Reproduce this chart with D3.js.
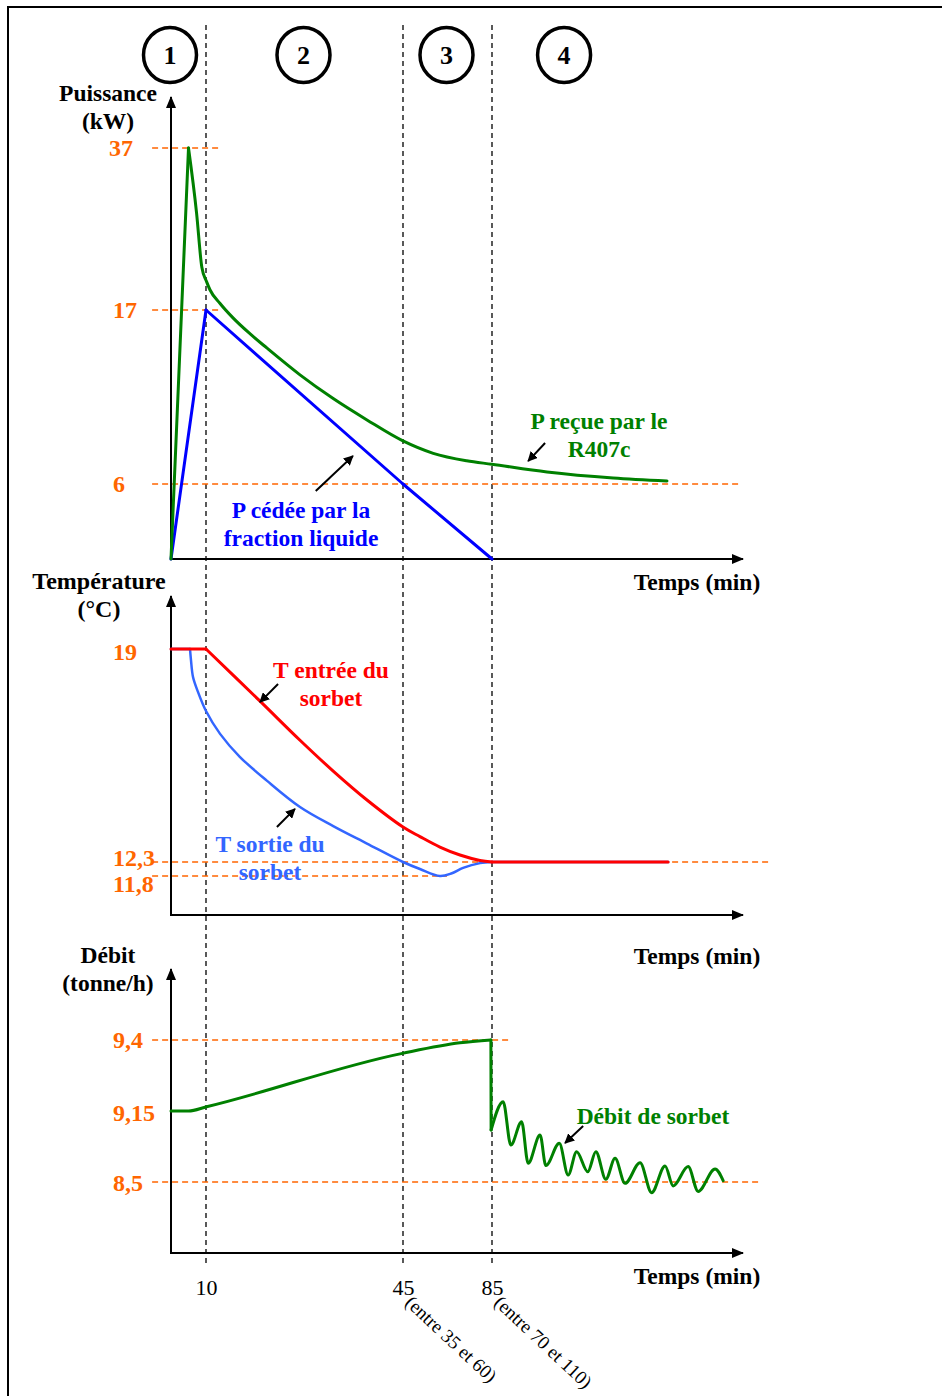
<!DOCTYPE html>
<html lang="fr">
<head>
<meta charset="utf-8">
<title>Phases de refroidissement du sorbet</title>
<script src="https://cdn.jsdelivr.net/npm/d3@7"></script>
<style>
  body { margin: 0; background: #fff; }
  text { font-family: "Liberation Serif", "DejaVu Serif", serif; }
</style>
</head>
<body>
<script>
// --- data (time in min) ---
var phases = ["1", "2", "3", "4"];
var phaseT = [0, 27.5, 65, 104];
var bounds = [10, 45, 85];
var boundNotes = ["", "(entre 35 et 60)", "(entre 70 et 110)"];

// power panel (kW)
var pTicks = [37, 17, 6];
var pRecueT = [0, 5, 7.3, 8.8, 10.1, 10.7, 12.5, 14.8, 17.8, 20.8, 26.7, 32.6, 38.6, 44.9, 58.6, 73.6, 84.9, 99.3, 116.5, 130.5];
var pRecueV = [0, 37, 29, 22.3, 20.5, 19.5, 17.8, 16.5, 15.5, 14.6, 12.9, 11.4, 10.05, 8.74, 7.94, 7.47, 7.25, 6.76, 6.38, 6.19];
var pCedeeT = [0, 10, 45, 85];
var pCedeeV = [0, 17, 6, 0];

// temperature panel (°C)
var tTicks = [19, 12.3, 11.8];
var tEntreeT = [0, 10, 19.6, 26.7, 32.6, 38.6, 45, 52.6, 61.6, 70.6, 79.6, 85, 130.8];
var tEntreeV = [19, 19, 17.36, 16.13, 15.16, 14.25, 13.4, 13.1, 12.77, 12.52, 12.35, 12.3, 12.3];
var tSortieT = [0, 5.43, 5.71, 6.29, 7.71, 10, 12.5, 16, 20.8, 26.7, 32.6, 38.6, 45, 52.6, 61.6, 67, 72, 79.6, 85, 130.8];
var tSortieV = [19, 19, 18.65, 18.12, 17.65, 17.05, 16.33, 15.61, 14.86, 14.03, 13.43, 12.88, 12.3, 12.05, 11.8, 11.9, 12.09, 12.26, 12.3, 12.3];

// flow panel (tonne/h)
var dTicks = [9.4, 9.15, 8.5];
var debitT = [0, 5, 10.1, 44.9, 70.6, 84.5, 84.6, 87.9, 89.9, 92.7, 94.4, 97.5, 99.0, 102.5, 104.8, 107.0, 109.9, 112.0, 114.6, 117.0, 119.6, 123.5, 126.5, 130.0, 132.1, 136.0, 138.6, 143.0, 145.1];
var debitV = [9.15, 9.15, 9.165, 9.353, 9.39, 9.4, 8.976, 9.183, 8.839, 9.052, 8.671, 8.93, 8.65, 8.854, 8.564, 8.777, 8.594, 8.777, 8.525, 8.717, 8.488, 8.677, 8.402, 8.647, 8.464, 8.641, 8.414, 8.619, 8.512];

var W = 942, H = 1396;
var orange = "#ff6600", green = "#008000", blue = "#0000ff", red = "#ff0000", lblue = "#3366ff";

var svg = d3.select("body").append("svg").attr("width", W).attr("height", H);

// time axis is drawn out of proportion in the original, so piecewise
var x = d3.scaleLinear().domain([0, 10, 45, 85, 150]).range([171, 206, 403, 492, 742]);
var yP = d3.scaleLinear().domain([0, 6, 17, 37]).range([559, 484, 310, 148]);
var yT = d3.scaleLinear().domain([11.8, 12.3, 19]).range([876, 862, 649]);
var yD = d3.scaleLinear().domain([8.5, 9.15, 9.4]).range([1182, 1111, 1040]);

var defs = svg.append("defs");
defs.append("marker").attr("id", "head")
  .attr("viewBox", "0 0 10 10").attr("refX", 9).attr("refY", 5)
  .attr("markerWidth", 10).attr("markerHeight", 10)
  .attr("markerUnits", "userSpaceOnUse").attr("orient", "auto")
  .append("path").attr("d", "M0,0L10,5L0,10Z").attr("fill", "#000");
defs.append("marker").attr("id", "axhead")
  .attr("viewBox", "0 0 12 10").attr("refX", 11).attr("refY", 5)
  .attr("markerWidth", 12).attr("markerHeight", 10)
  .attr("markerUnits", "userSpaceOnUse").attr("orient", "auto")
  .append("path").attr("d", "M0,0L12,5L0,10Z").attr("fill", "#000");

// frame
svg.append("path").attr("d", "M8," + H + "V7H" + W)
  .attr("fill", "none").attr("stroke", "#000").attr("stroke-width", 2);

// phase circles
var ph = svg.selectAll(".phase").data(phases).enter().append("g")
  .attr("transform", function(d, i) { return "translate(" + (x(phaseT[i]) - 1) + ",55)"; });
ph.append("ellipse").attr("rx", 26.5).attr("ry", 27.5)
  .attr("fill", "none").attr("stroke", "#000").attr("stroke-width", 3.5);
ph.append("text").text(function(d) { return d; })
  .attr("text-anchor", "middle").attr("y", 9)
  .attr("font-size", "26px").attr("font-weight", "bold");

// vertical phase boundaries
svg.selectAll(".bound").data(bounds).enter().append("line")
  .attr("x1", function(d) { return x(d); }).attr("x2", function(d) { return x(d); })
  .attr("y1", 25).attr("y2", 1266)
  .attr("stroke", "#000").attr("stroke-width", 1.3).attr("stroke-dasharray", "5,4");

// helper: orange dashed reference lines
function refLine(yScale, v, t0, t1) {
  svg.append("line")
    .attr("x1", x(t0)).attr("x2", x(t1))
    .attr("y1", yScale(v)).attr("y2", yScale(v))
    .attr("stroke", orange).attr("stroke-width", 1.5).attr("stroke-dasharray", "6,4");
}
// helper: tick labels
function tickLabels(yScale, ticks, offsets) {
  svg.selectAll(null).data(ticks).enter().append("text")
    .text(function(d) { return String(d).replace(".", ","); })
    .attr("x", function(d, i) { return i === 0 && ticks[0] === 37 ? 109 : 113; })
    .attr("y", function(d, i) { return yScale(d) + 8 + (offsets ? offsets[i] : 0); })
    .attr("fill", orange).attr("font-weight", "bold").attr("font-size", "24px");
}
// helper: axes with arrows
function axes(yBase, yTop) {
  var g = svg.append("g").attr("transform", "translate(0," + yBase + ")");
  g.call(d3.axisBottom(x).tickValues([]).tickSizeOuter(0));
  g.select(".domain").attr("stroke-width", 2).attr("marker-end", "url(#axhead)")
    .attr("d", "M" + x(0) + ",0H" + (x(150) + 1));
  svg.append("line").attr("x1", x(0)).attr("x2", x(0))
    .attr("y1", yBase + 1).attr("y2", yTop)
    .attr("stroke", "#000").attr("stroke-width", 2).attr("marker-end", "url(#axhead)");
  return g;
}
// helper: smooth series with corners at given indices
function series(ts, vs, yScale, color, corners, width, curve) {
  var pts = ts.map(function(t, i) { return [x(t), yScale(vs[i])]; });
  var cuts = [0].concat(corners).concat([pts.length - 1]);
  var line = d3.line().curve(curve || d3.curveMonotoneX);
  for (var k = 0; k < cuts.length - 1; k++) {
    svg.append("path").attr("d", line(pts.slice(cuts[k], cuts[k + 1] + 1)))
      .attr("fill", "none").attr("stroke", color).attr("stroke-width", width || 3)
      .attr("stroke-linejoin", "round").attr("stroke-linecap", "round");
  }
}
function arrow(yScale, t0, v0, t1, v1) {
  svg.append("line")
    .attr("x1", x(t0)).attr("y1", yScale(v0)).attr("x2", x(t1)).attr("y2", yScale(v1))
    .attr("stroke", "#000").attr("stroke-width", 2).attr("marker-end", "url(#head)");
}
function label(lines, cx, y, color, size) {
  var t = svg.append("text").attr("text-anchor", "middle")
    .attr("fill", color).attr("font-weight", "bold").attr("font-size", (size || 23.5) + "px");
  lines.forEach(function(s, i) {
    t.append("tspan").attr("x", cx).attr("y", y + i * 28).text(s);
  });
}

// ===== panel 1 : power =====
refLine(yP, 37, -5.4, 12.5);
refLine(yP, 17, -5.4, 12.5);
refLine(yP, 6, -5.4, 150);
axes(yP(0), 97);
tickLabels(yP, pTicks);
series(pCedeeT, pCedeeV, yP, blue, [1, 2], 3);
series(pRecueT, pRecueV, yP, green, [1], 3);
label(["Puissance", "(kW)"], 108, 101, "#000");
label(["Temps (min)"], 697, 590, "#000");
label(["P cédée par la", "fraction liquide"], 301, 518, blue);
label(["P reçue par le", "R407c"], 599, 429, green);
arrow(yP, 29.5, 5.44, 36.1, 7.77);
arrow(yP, 98.8, 8.59, 94.4, 7.45);

// ===== panel 2 : temperature =====
refLine(yT, 12.3, -5.4, 157.3);
refLine(yT, 11.8, -5.4, 64.8);
axes(915, 596);
tickLabels(yT, tTicks, [3, -4, 8]);
var smooth = d3.curveCatmullRom.alpha(0.5);
series(tSortieT, tSortieV, yT, lblue, [1, 18], 2.5, smooth);
series(tEntreeT, tEntreeV, yT, red, [1, 11], 3, smooth);
label(["Température", "(°C)"], 99, 589, "#000", 24);
label(["Temps (min)"], 697, 964, "#000");
label(["T entrée du", "sorbet"], 331, 678, red);
label(["T sortie du", "sorbet"], 270, 852, lblue);
arrow(yT, 22.8, 17.9, 19.6, 17.33);
arrow(yT, 22.6, 13.4, 25.8, 13.97);

// ===== panel 3 : flow =====
refLine(yD, 9.4, -5.4, 89.7);
refLine(yD, 8.5, -5.4, 155.2);
var gx = axes(1253, 969);
gx.call(d3.axisBottom(x).tickValues(bounds).tickSize(0).tickPadding(26).tickSizeOuter(0));
gx.select(".domain").attr("stroke-width", 2).attr("marker-end", "url(#axhead)")
  .attr("d", "M" + x(0) + ",0H" + (x(150) + 1));
gx.selectAll(".tick text").attr("font-family", "Liberation Serif").attr("font-size", "22px").attr("fill", "#000");
tickLabels(yD, dTicks, [0, 2, 1]);
series(debitT, debitV, yD, green, [5, 6], 3);
label(["Débit", "(tonne/h)"], 108, 963, "#000");
label(["Temps (min)"], 697, 1284, "#000");
label(["Débit de sorbet"], 653, 1124, green);
arrow(yD, 108.7, 9.013, 104, 8.857);

// rotated notes under the boundaries
svg.selectAll(".note").data(bounds).enter().append("text")
  .text(function(d, i) { return boundNotes[i]; })
  .attr("transform", function(d) { return "translate(" + (x(d) + 1) + ",1304) rotate(43)"; })
  .attr("font-size", "19px").attr("fill", "#000");
</script>
</body>
</html>
